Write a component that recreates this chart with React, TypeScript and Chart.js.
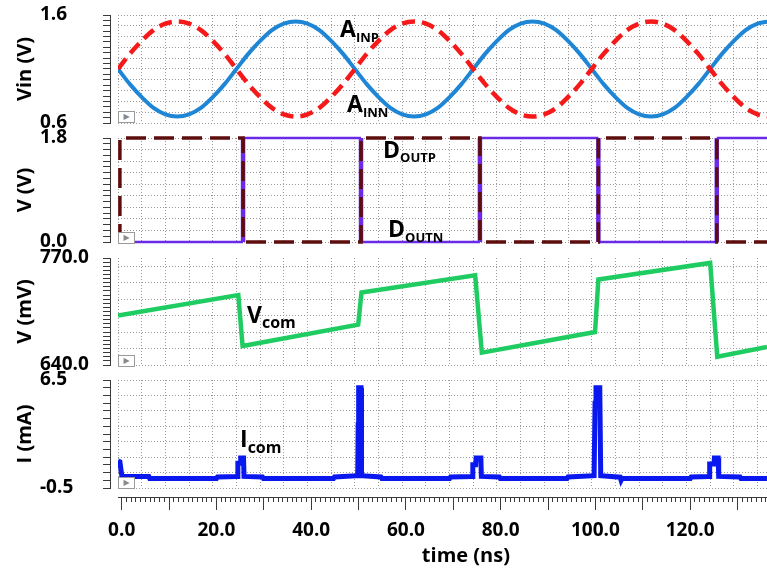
import React, { useEffect, useRef } from "react";
import { Chart, registerables } from "chart.js";

Chart.register(...registerables);

const W = 767;
const H = 569;
const T_MAX = 137;
const XB_SHIFT = 0.78; // bottom ruler offset (ns)
const FONT = '"Open Sans", "DejaVu Sans", sans-serif';
const GRID_COLOR = "#9a9a9a";
const RULER_COLOR = "#3a3a3a";

// ---------- data ----------
const SINE_T = [0, 2.5, 5, 7.5, 10, 12.5, 15, 17.5, 20, 22.5, 25, 27.5, 30, 32.5, 35, 37.5, 40, 42.5, 45, 47.5,
  50, 52.5, 55, 57.5, 60, 62.5, 65, 67.5, 70, 72.5, 75, 77.5, 80, 82.5, 85, 87.5, 90, 92.5, 95, 97.5,
  100, 102.5, 105, 107.5, 110, 112.5, 115, 117.5, 120, 122.5, 125, 127.5, 130, 132.5, 135, 137.5];
const AINP_V = [1.10, 0.96, 0.84, 0.74, 0.68, 0.66, 0.68, 0.74, 0.84, 0.96, 1.10, 1.24, 1.36, 1.46, 1.52, 1.54, 1.52, 1.46, 1.36, 1.24,
  1.10, 0.96, 0.84, 0.74, 0.68, 0.66, 0.68, 0.74, 0.84, 0.96, 1.10, 1.24, 1.36, 1.46, 1.52, 1.54, 1.52, 1.46, 1.36, 1.24,
  1.10, 0.96, 0.84, 0.74, 0.68, 0.66, 0.68, 0.74, 0.84, 0.96, 1.10, 1.24, 1.36, 1.46, 1.52, 1.54];
const AINN_V = [1.10, 1.24, 1.36, 1.46, 1.52, 1.54, 1.52, 1.46, 1.36, 1.24, 1.10, 0.96, 0.84, 0.74, 0.68, 0.66, 0.68, 0.74, 0.84, 0.96,
  1.10, 1.24, 1.36, 1.46, 1.52, 1.54, 1.52, 1.46, 1.36, 1.24, 1.10, 0.96, 0.84, 0.74, 0.68, 0.66, 0.68, 0.74, 0.84, 0.96,
  1.10, 1.24, 1.36, 1.46, 1.52, 1.54, 1.52, 1.46, 1.36, 1.24, 1.10, 0.96, 0.84, 0.74, 0.68, 0.66];

const DOUTP = [[0, 0], [0.4, 0], [0.4, 1.8], [26.4, 1.8], [26.4, 0], [51.3, 0], [51.3, 1.8], [76.4, 1.8], [76.4, 0],
  [101.4, 0], [101.4, 1.8], [126.4, 1.8], [126.4, 0], [137, 0]];
const DOUTN = [[0, 0], [26.4, 0], [26.4, 1.8], [51.3, 1.8], [51.3, 0], [76.4, 0], [76.4, 1.8], [101.4, 1.8], [101.4, 0],
  [126.4, 0], [126.4, 1.8], [137, 1.8]];

const VCOM = [[0, 700], [25.4, 725], [26.3, 663], [50.7, 689], [51.4, 728], [75.4, 749], [76.8, 655],
  [100.7, 680], [101.4, 744], [125.0, 764], [126.5, 650], [137, 662]];

const ICOM = [[0, 1.25], [0.4, 1.2], [0.8, 0.3], [1.2, 0.25], [6.5, 0.25], [6.7, 0.12], [20.8, 0.12], [21.0, 0.22],
  [25.2, 0.25], [25.3, 1.1], [25.8, 1.1], [25.9, 1.45], [26.5, 1.45], [26.6, 0.25], [30.5, 0.22], [30.7, 0.12],
  [45.5, 0.12], [45.7, 0.22], [50.6, 0.3], [50.7, 3.6], [50.8, 6.0], [51.3, 6.0], [51.4, 0.3], [55.5, 0.22], [55.7, 0.12],
  [70.0, 0.12], [70.2, 0.22], [74.8, 0.25], [74.9, 1.0], [75.5, 1.0], [75.6, 1.45], [76.6, 1.45], [76.7, 0.25],
  [80.5, 0.22], [80.7, 0.12], [94.8, 0.12], [95.0, 0.22], [100.5, 0.3], [100.7, 5.0], [100.9, 6.0], [101.7, 6.0],
  [101.9, 0.3], [106.0, 0.2], [106.2, 0.0], [106.4, 0.12], [120.8, 0.12], [121.0, 0.22], [124.8, 0.25], [124.9, 1.05],
  [125.8, 1.05], [125.9, 1.45], [126.7, 1.45], [126.8, 0.25], [131.3, 0.22], [131.5, 0.12], [137, 0.12]];

// ---------- ticks ----------
const VIN_TICKS = [0.6, 1.6];
const VIN_LABELS = ["0.6", "1.6"];
const VD_TICKS = [0, 1.8];
const VD_LABELS = ["0.0", "1.8"];
const VM_TICKS = [640, 770];
const VM_LABELS = ["640.0", "770.0"];
const I_TICKS = [-0.5, 6.5];
const I_LABELS = ["-0.5", "6.5"];
const TIME_TICKS = [0, 10, 20, 30, 40, 50, 60, 70, 80, 90, 100, 110, 120, 130];
const TIME_LABELS: Record<number, string> = { 0: "0.0", 20: "20.0", 40: "40.0", 60: "60.0", 80: "80.0", 100: "100.0", 120: "120.0" };

function range(a: number, b: number, step: number) {
  const out: number[] = [];
  for (let i = 0; a + i * step <= b + 1e-9; i++) out.push(+(a + i * step).toFixed(4));
  return out;
}

const pts = (arr: number[][]) => arr.map(([x, y]) => ({ x, y }));
const zipPts = (xs: number[], ys: number[]) => xs.map((x, i) => ({ x, y: ys[i] }));

function ds(label: string, data: any[], color: string, width: number, dash: number[] = [], smooth = false, extra: any = {}) {
  return {
    label, data, borderColor: color, backgroundColor: color, borderWidth: width, borderDash: dash,
    pointRadius: 0, fill: false, tension: smooth ? 0.4 : 0, cubicInterpolationMode: smooth ? "monotone" : "default",
    borderCapStyle: "butt", borderJoinStyle: smooth ? "round" : "miter", xAxisID: "x", yAxisID: "ysp",
    clip: { left: 0, top: 4, right: 4, bottom: 4 },
    ...extra,
  };
}

const PANELS = [
  {
    top: 15, bottom: 123, min: 0.6, max: 1.6, grid: range(0.6, 1.6, 0.1), ruler: range(0.6, 1.6, 0.05),
    ticks: VIN_TICKS, labels: VIN_LABELS, title: "Vin (V)",
    datasets: [
      ds("AINN", zipPts(SINE_T, AINN_V), "#f51919", 4.5, [13, 7], true),
      ds("AINP", zipPts(SINE_T, AINP_V), "#1f86d6", 4, [], true),
    ],
  },
  {
    top: 138, bottom: 242, min: 0, max: 1.8, grid: range(0, 1.8, 0.2), ruler: range(0, 1.8, 0.1),
    ticks: VD_TICKS, labels: VD_LABELS, title: "V (V)",
    datasets: [
      ds("DOUTP", pts(DOUTP), "#5e0d0d", 3.5, [20, 8]),
      ds("DOUTN", pts(DOUTN), "#6a2ae6", 2.5, [], false, {
        segment: { borderWidth: (c: any) => (c.p0.parsed.x === c.p1.parsed.x ? 4.5 : 2.5) },
      }),
    ],
  },
  {
    top: 258, bottom: 365, min: 640, max: 770, grid: range(640, 760, 20), ruler: range(640, 770, 5),
    ticks: VM_TICKS, labels: VM_LABELS, title: "V (mV)",
    datasets: [ds("Vcom", pts(VCOM), "#1fcc62", 4.5)],
  },
  {
    top: 380, bottom: 488, min: -0.5, max: 6.5, grid: range(-0.5, 6.5, 1), ruler: range(-0.5, 6.5, 0.5),
    ticks: I_TICKS, labels: I_LABELS, title: "I (mA)", bottomAxis: true,
    datasets: [ds("Icom", pts(ICOM), "#0a18f0", 5)],
  },
];

function setTicks(vals: number[]) {
  return (s: any) => { s.ticks = vals.map((v) => ({ value: v })); };
}

function buildConfig(p: any): any {
  const yBase = { type: "linear", axis: "y", position: "left", min: p.min, max: p.max };
  const gridLines = { display: true, drawOnChartArea: true, drawTicks: false, color: GRID_COLOR, lineWidth: 1 };
  const scales: any = {
    x: {
      type: "linear", axis: "x", position: "bottom", min: 0, max: T_MAX, weight: 0,
      afterBuildTicks: setTicks(range(0, 135, 5)),
      afterFit: (s: any) => { s.height = p.bottomAxis ? 9 : 0; },
      ticks: { display: false },
      grid: gridLines,
      border: { display: false, dash: [1, 2] },
    },
    ysp: {
      ...yBase, weight: 0,
      afterBuildTicks: setTicks(p.grid),
      afterFit: (s: any) => { s.width = 8; },
      ticks: { display: false },
      grid: gridLines,
      border: { display: false, dash: [1, 2] },
    },
    yr: {
      ...yBase, weight: 1,
      afterBuildTicks: setTicks(p.ruler),
      afterFit: (s: any) => { s.width = 7; },
      ticks: { display: false },
      grid: { display: true, drawOnChartArea: false, drawTicks: true, tickLength: 7, tickColor: RULER_COLOR, tickWidth: 1 },
      border: { display: true, color: RULER_COLOR, width: 1 },
    },
    ylab: {
      ...yBase, weight: 2,
      afterBuildTicks: setTicks(p.ticks),
      afterFit: (s: any) => { s.width = 63; },
      ticks: {
        display: true, autoSkip: false, crossAlign: "far", padding: 0, color: "#000",
        font: { family: FONT, size: 19, weight: "bold" },
        callback: (_v: any, i: number) => p.labels[i],
      },
      grid: { display: false, drawTicks: false },
      border: { display: false },
    },
    yt: {
      ...yBase, weight: 3,
      afterFit: (s: any) => { s.width = 27; },
      ticks: { display: false },
      grid: { display: false, drawTicks: false },
      border: { display: false },
      title: { display: true, text: p.title, color: "#000", padding: 0, font: { family: FONT, size: 20, weight: "bold" } },
    },
  };
  if (p.bottomAxis) {
    scales.xm = {
      type: "linear", axis: "x", position: "bottom", min: -XB_SHIFT, max: T_MAX - XB_SHIFT, weight: 1,
      afterBuildTicks: setTicks(range(0, 136, 1)),
      afterFit: (s: any) => { s.height = 5; },
      ticks: { display: false },
      grid: { display: true, drawOnChartArea: false, drawTicks: true, tickLength: 5, tickColor: RULER_COLOR, tickWidth: 1 },
      border: { display: true, color: RULER_COLOR, width: 1 },
    };
    scales.xb = {
      type: "linear", axis: "x", position: "bottom", min: -XB_SHIFT, max: T_MAX - XB_SHIFT, weight: 2,
      afterBuildTicks: setTicks(TIME_TICKS),
      afterFit: (s: any) => { s.height = 66; },
      ticks: {
        display: true, autoSkip: false, maxRotation: 0, minRotation: 0, padding: 9, color: "#000",
        font: { family: FONT, size: 19, weight: "bold" },
        callback: (v: any) => TIME_LABELS[v] ?? "",
      },
      grid: { display: true, drawOnChartArea: false, drawTicks: true, tickLength: 8, tickColor: RULER_COLOR, tickWidth: 1 },
      border: { display: false },
      title: { display: true, text: "         time (ns)", color: "#000", padding: 0, font: { family: FONT, size: 20, weight: "bold" } },
    };
  }
  return {
    type: "line",
    data: { datasets: p.datasets },
    options: {
      animation: false, responsive: false, devicePixelRatio: 1, events: [],
      layout: { padding: { left: 13, right: 0, top: p.top, bottom: p.bottomAxis ? 1 : H - p.bottom } },
      plugins: { legend: { display: false }, tooltip: { enabled: false } },
      scales,
    },
  };
}

function PanelChart({ panel }: { panel: any }) {
  const ref = useRef<HTMLCanvasElement>(null);
  useEffect(() => {
    const chart = new Chart(ref.current as HTMLCanvasElement, buildConfig(panel));
    return () => chart.destroy();
  }, [panel]);
  return (
    <canvas ref={ref} width={W} height={H}
      style={{ position: "absolute", left: 0, top: 0, width: W, height: H }} />
  );
}

const ANNOTATIONS = [
  { main: "A", sub: "INP", left: 340, base: 37, subSize: 13, shift: 5 },
  { main: "A", sub: "INN", left: 347, base: 112, subSize: 13, shift: 5 },
  { main: "D", sub: "OUTP", left: 383, base: 158, subSize: 13, shift: 4 },
  { main: "D", sub: "OUTN", left: 388, base: 237, subSize: 13, shift: 5 },
  { main: "V", sub: "com", left: 247, base: 323, subSize: 16, shift: 5 },
  { main: "I", sub: "com", left: 240, base: 447, subSize: 16, shift: 6 },
];

const ICONS = [{ top: 111 }, { top: 232 }, { top: 355 }, { top: 477 }];

export default function App() {
  return (
    <div style={{ position: "fixed", left: 0, top: 0, width: W, height: H, background: "#fff", overflow: "hidden" }}>
      {PANELS.map((p, i) => <PanelChart key={i} panel={p} />)}
      {ICONS.map((ic, i) => (
        <div key={"ic" + i} style={{
          position: "absolute", left: 118, top: ic.top, width: 15, height: 10, border: "1px solid #9a9a9a",
          background: "#fff", color: "#8a8a8a", fontSize: 8, lineHeight: "10px", textAlign: "center",
          fontFamily: '"DejaVu Sans", sans-serif',
        }}>▶</div>
      ))}
      {ANNOTATIONS.map((a, i) => (
        <div key={"a" + i} style={{
          position: "absolute", left: a.left, top: a.base - 20.4, whiteSpace: "nowrap",
          fontFamily: FONT, fontWeight: 700, fontSize: 23, lineHeight: 1, color: "#000",
        }}>
          {a.main}
          <span style={{ fontSize: a.subSize, lineHeight: 1, verticalAlign: -a.shift }}>{a.sub}</span>
        </div>
      ))}
    </div>
  );
}
